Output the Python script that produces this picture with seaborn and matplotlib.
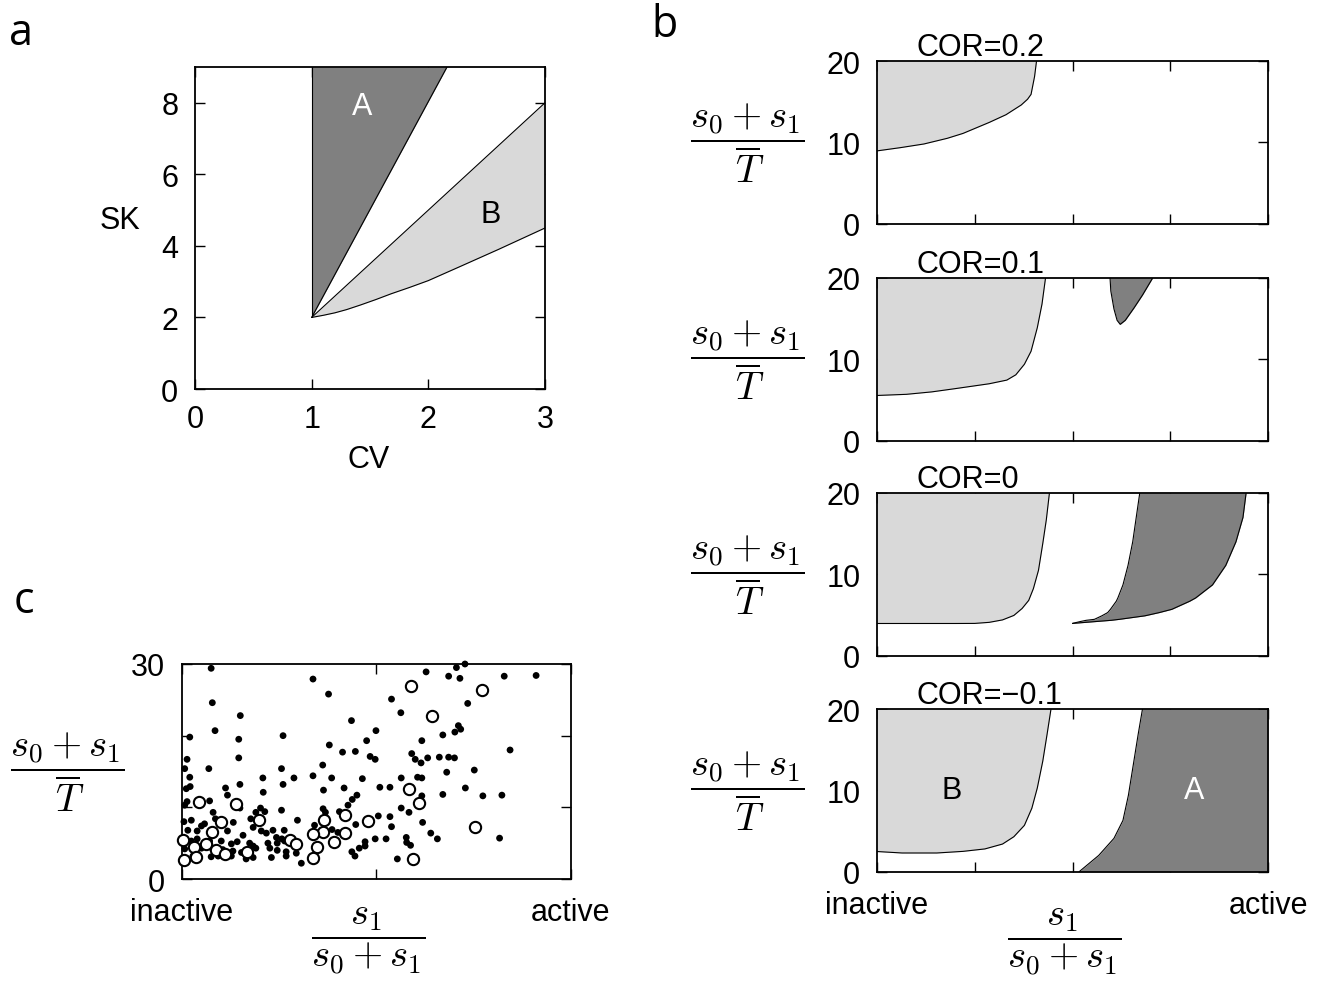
import numpy as np
import seaborn as sns
import matplotlib.pyplot as plt

# panel a: regions in the (CV, SK) plane
a_cv = [1.0, 1.05, 1.1, 1.2, 1.3, 1.42, 1.55, 1.68, 1.84, 2.0, 2.27, 2.6, 3.0]
a_lower = [2.0, 2.03, 2.06, 2.13, 2.22, 2.35, 2.5, 2.66, 2.84, 3.03, 3.42, 3.9, 4.5]
a_upper = [2.0, 2.15, 2.3, 2.6, 2.9, 3.26, 3.65, 4.04, 4.52, 5.0, 5.81, 6.8, 8.0]
a_A_sk = [2.0, 9.0]
a_A_cv = [1.0, 2.16]

# panel b: boundaries for each COR value
cor_titles = ['COR=0.2', 'COR=0.1', 'COR=0', 'COR=\u22120.1']

b1_x = [0, 0.06, 0.12, 0.18, 0.22, 0.287, 0.33, 0.369, 0.385, 0.394, 0.403, 0.408]
b1_y = [8.95, 9.35, 9.8, 10.5, 11.1, 12.45, 13.4, 14.6, 15.3, 15.9, 18.1, 20]

b2_x = [0, 0.075, 0.14, 0.2, 0.287, 0.332, 0.355, 0.377, 0.394, 0.41, 0.422, 0.431]
b2_y = [5.56, 5.7, 6.0, 6.4, 7.0, 7.45, 8.1, 9.4, 11.0, 13.9, 16.8, 20]
b2d_x = [0.596, 0.598, 0.606, 0.614, 0.622, 0.635, 0.657, 0.679, 0.705]
b2d_y = [20, 18.4, 16.2, 14.8, 14.3, 14.8, 16.3, 17.9, 20]

b3_x = [0, 0.1, 0.2, 0.25, 0.287, 0.321, 0.35, 0.371, 0.388, 0.4, 0.413, 0.424, 0.433, 0.441]
b3_y = [3.96, 3.96, 3.96, 3.97, 4.1, 4.4, 4.95, 5.8, 6.8, 8.25, 10.5, 13.8, 16.7, 20]
b3d_y = [3.97, 4.2, 4.35, 4.47, 4.9, 5.3, 5.7, 6.7, 7.1, 8.7, 11.1, 14.0, 17.0, 20]
b3d_left = [0.5, 0.52, 0.535, 0.556, 0.575, 0.59, 0.597, 0.612, 0.616, 0.629, 0.642,
            0.654, 0.663, 0.672]
b3d_right = [0.5, 0.56, 0.599, 0.62, 0.685, 0.722, 0.754, 0.8, 0.815, 0.858, 0.892,
             0.918, 0.936, 0.944]

b4_x = [0, 0.064, 0.153, 0.22, 0.276, 0.321, 0.35, 0.377, 0.396, 0.41, 0.424, 0.435, 0.445]
b4_y = [2.48, 2.3, 2.3, 2.5, 2.8, 3.4, 4.3, 5.7, 7.8, 10.3, 13.6, 16.9, 20]
b4d_y = [0, 2.0, 4.1, 6.3, 9.4, 13.6, 16.9, 20]
b4d_x = [0.517, 0.567, 0.606, 0.629, 0.643, 0.657, 0.668, 0.679]

# panel c: measured genes (dots) and highlighted genes (open circles)
dot_x = [0.075, 0.337, 0.078, 0.150, 0.085, 0.020, 0.146, 0.260, 0.013, 0.146, 0.007, 0.069,
         0.256, 0.020, 0.149, 0.208, 0.288, 0.337, 0.260, 0.021, 0.011, 0.112, 0.117, 0.209,
         0.013, 0.007, 0.071, 0.149, 0.080, 0.202, 0.213, 0.190, 0.256, 0.005, 0.024, 0.050,
         0.058, 0.086, 0.132, 0.177, 0.183, 0.297, 0.341, 0.015, 0.039, 0.117, 0.157, 0.204,
         0.217, 0.234, 0.263, 0.002, 0.024, 0.039, 0.071, 0.101, 0.127, 0.142, 0.174, 0.183,
         0.221, 0.243, 0.245, 0.257, 0.264, 0.007, 0.050, 0.075, 0.105, 0.131, 0.153, 0.190,
         0.226, 0.245, 0.268, 0.294, 0.028, 0.075, 0.093, 0.127, 0.165, 0.183, 0.230, 0.268,
         0.307, 0.002,
         0.377, 0.628, 0.686, 0.539, 0.563, 0.436, 0.499, 0.671, 0.475, 0.617, 0.379, 0.413,
         0.446, 0.484, 0.497, 0.591, 0.600, 0.615, 0.632, 0.662, 0.686, 0.362, 0.385, 0.464,
         0.564, 0.606, 0.617, 0.681, 0.364, 0.417, 0.509, 0.535, 0.450, 0.438, 0.427, 0.671,
         0.617, 0.564, 0.584, 0.363, 0.369, 0.405, 0.386, 0.401, 0.447, 0.505, 0.535, 0.539,
         0.619, 0.640, 0.657, 0.497, 0.525, 0.471, 0.471, 0.456, 0.437, 0.445, 0.577, 0.578,
         0.588, 0.554,
         0.728, 0.706, 0.715, 0.829, 0.911, 0.735, 0.711, 0.702, 0.717, 0.844, 0.701, 0.752,
         0.729, 0.774, 0.823, 0.817]
dot_y = [29.4, 27.9, 24.6, 22.8, 20.7, 19.8, 19.5, 20.0, 16.7, 16.9, 15.4, 15.4,
         15.4, 14.2, 13.2, 14.1, 14.1, 14.4, 13.2, 12.9, 12.6, 12.7, 11.7, 12.1,
         10.8, 10.3, 10.9, 9.9, 9.3, 9.9, 9.4, 9.3, 9.6, 8.0, 8.2, 7.4,
         7.7, 8.4, 7.9, 8.4, 7.2, 8.2, 7.5, 6.8, 6.7, 6.7, 6.1, 6.7,
         6.4, 6.8, 6.8, 5.3, 5.3, 5.6, 5.3, 5.3, 4.9, 5.2, 5.0, 4.6,
         5.0, 5.8, 5.0, 5.6, 5.3, 4.2, 4.3, 4.4, 4.1, 3.9, 3.7, 4.3,
         4.3, 4.0, 3.8, 3.6, 3.2, 3.1, 3.2, 3.2, 2.8, 3.0, 3.0, 3.2,
         2.2, 2.8,
         25.8, 28.9, 28.3, 25.1, 23.2, 22.1, 20.7, 20.1, 19.3, 19.3, 18.7, 17.7,
         17.8, 17.1, 16.7, 17.5, 16.7, 16.2, 16.9, 17.0, 17.0, 15.9, 14.1, 14.0,
         14.1, 14.2, 14.1, 14.9, 12.4, 12.7, 12.8, 12.8, 11.7, 11.1, 10.3, 11.8,
         11.6, 9.9, 9.3, 9.8, 9.3, 9.4, 6.9, 6.5, 7.6, 8.8, 8.7, 7.3,
         7.9, 6.4, 5.6, 5.6, 5.6, 5.2, 4.6, 4.3, 3.8, 3.2, 5.8, 5.1,
         4.7, 2.8,
         30.0, 29.5, 28.0, 28.3, 28.4, 24.5, 21.4, 20.5, 20.9, 18.0, 16.9, 15.2,
         12.7, 11.6, 11.7, 5.7]
ring_x = [0.043, 0.140, 0.100, 0.198, 0.078, 0.003, 0.063, 0.030, 0.087, 0.110, 0.166, 0.005,
          0.035, 0.277, 0.294, 0.590, 0.643, 0.585, 0.611, 0.366, 0.419, 0.479, 0.362, 0.338,
          0.419, 0.391, 0.347, 0.338, 0.594, 0.773, 0.753]
ring_y = [10.8, 10.5, 8.0, 8.2, 6.5, 5.4, 4.9, 4.4, 4.0, 3.5, 3.7, 2.6,
          3.1, 5.4, 4.9, 26.9, 22.8, 12.6, 10.6, 8.3, 8.9, 8.1, 6.6, 6.3,
          6.4, 5.2, 4.4, 3.0, 2.8, 26.4, 7.2]

dark = '#808080'
light = '#d9d9d9'
frac = r'$\dfrac{s_0+s_1}{\overline{T}}$'
xfrac = r'$\dfrac{s_1}{s_0+s_1}$'

sns.set_theme(style='ticks')
plt.rcParams['font.family'] = ['Liberation Sans', 'DejaVu Sans']
plt.rcParams['mathtext.fontset'] = 'cm'
plt.rcParams['text.color'] = 'black'
plt.rcParams['axes.labelcolor'] = 'black'
plt.rcParams['axes.edgecolor'] = 'black'
plt.rcParams['xtick.color'] = 'black'
plt.rcParams['ytick.color'] = 'black'

W, H = 1323, 987
fig = plt.figure(figsize=(W / 100, H / 100), dpi=100)


def rect(left, top, right, bottom):
    return [left / W, 1 - bottom / H, (right - left) / W, (bottom - top) / H]


def frame(ax, ypad=12, xpad=11):
    ax.tick_params(axis='both', direction='in', top=True, right=True, length=7,
                   width=1, labelsize=22, labelcolor='black')
    ax.tick_params(axis='y', pad=ypad)
    ax.tick_params(axis='x', pad=xpad)
    for s in ax.spines.values():
        s.set_linewidth(1.3)
    ax.set_xlabel('')
    ax.set_ylabel('')


def boundary(ax, x, y):
    sns.lineplot(x=x, y=y, sort=False, estimator=None, color='black', lw=0.8, ax=ax)


# ---- panel a ----
axa = fig.add_axes(rect(195, 68, 545, 390))
axa.fill_betweenx(a_A_sk, [1.0, 1.0], a_A_cv, color=dark, lw=0)
axa.fill_between(a_cv, a_lower, a_upper, color=light, lw=0)
boundary(axa, [1.0, 1.0], a_A_sk)
boundary(axa, a_A_cv, a_A_sk)
boundary(axa, a_cv, a_upper)
boundary(axa, a_cv, a_lower)
axa.set_xlim(0, 3)
axa.set_ylim(0, 9)
axa.set_xticks([0, 1, 2, 3])
axa.set_yticks([0, 2, 4, 6, 8])
frame(axa)
axa.text(1.43, 7.9, 'A', color='white', fontsize=22, ha='center', va='center')
axa.text(2.53, 4.9, 'B', color='black', fontsize=22, ha='center', va='center')
axa.text(-0.214, 0.525, 'SK', transform=axa.transAxes, fontsize=22, ha='center', va='center')
axa.text(0.496, -0.217, 'CV', transform=axa.transAxes, fontsize=22, ha='center', va='center')

# ---- panel b ----
tops = [62, 279, 494, 710]
b_axes = []
for top in tops:
    ax = fig.add_axes(rect(877, top, 1268, top + 162.7))
    b_axes.append(ax)

ax1, ax2, ax3, ax4 = b_axes
ax1.fill_between(b1_x, b1_y, 20, color=light, lw=0)
boundary(ax1, b1_x, b1_y)

ax2.fill_between(b2_x, b2_y, 20, color=light, lw=0)
boundary(ax2, b2_x, b2_y)
ax2.fill_between(b2d_x, b2d_y, 20, color=dark, lw=0)
boundary(ax2, b2d_x, b2d_y)

ax3.fill_between(b3_x, b3_y, 20, color=light, lw=0)
boundary(ax3, b3_x, b3_y)
ax3.fill_betweenx(b3d_y, b3d_left, b3d_right, color=dark, lw=0)
boundary(ax3, b3d_left, b3d_y)
boundary(ax3, b3d_right, b3d_y)

ax4.fill_between(b4_x, b4_y, 20, color=light, lw=0)
boundary(ax4, b4_x, b4_y)
ax4.fill_betweenx(b4d_y, b4d_x, 1, color=dark, lw=0)
boundary(ax4, b4d_x, b4d_y)
ax4.text(0.19, 10, 'B', color='black', fontsize=22, ha='center', va='center')
ax4.text(0.81, 10, 'A', color='white', fontsize=22, ha='center', va='center')

for i, ax in enumerate(b_axes):
    ax.set_xlim(0, 1)
    ax.set_ylim(0, 20)
    ax.set_yticks([0, 10, 20])
    ax.set_xticks([0, 0.25, 0.5, 0.75, 1])
    if i == 3:
        ax.set_xticklabels(['inactive', '', '', '', 'active'])
    else:
        ax.set_xticklabels([])
    frame(ax, xpad=13)
    ax.text(0.1, 1.037, cor_titles[i], transform=ax.transAxes, fontsize=22,
            ha='left', va='baseline')
    ax.text(-0.332, 0.5, frac, transform=ax.transAxes, fontsize=28,
            ha='center', va='center')
ax4.text(0.48, -0.43, xfrac, transform=ax4.transAxes, fontsize=28,
         ha='center', va='center')

# ---- panel c ----
axc = fig.add_axes(rect(182, 665, 570.7, 880))
sns.scatterplot(x=dot_x, y=dot_y, s=24, color='black', edgecolor='none',
                ax=axc, legend=False, clip_on=False, zorder=2)
sns.scatterplot(x=ring_x, y=ring_y, s=66, color='white', edgecolor='black',
                linewidth=1.5, ax=axc, legend=False, clip_on=False, zorder=3)
axc.set_xlim(0, 1)
axc.set_ylim(0, 30)
axc.set_xticks([0, 0.5, 1])
axc.set_xticklabels(['inactive', '', 'active'])
axc.set_yticks([0, 10, 20, 30])
axc.set_yticklabels(['0', '', '', '30'])
frame(axc, xpad=13)
axc.text(-0.296, 0.5, frac, transform=axc.transAxes, fontsize=28, ha='center', va='center')
axc.text(0.479, -0.285, xfrac, transform=axc.transAxes, fontsize=28, ha='center', va='center')

# panel letters
for letter, (px, py) in zip('abc', [(21, 34), (664, 26), (24, 602)]):
    fig.text(px / W, 1 - py / H, letter, fontsize=31, family='Open Sans',
             ha='center', va='center')

fig.savefig('out.png', dpi=100)
